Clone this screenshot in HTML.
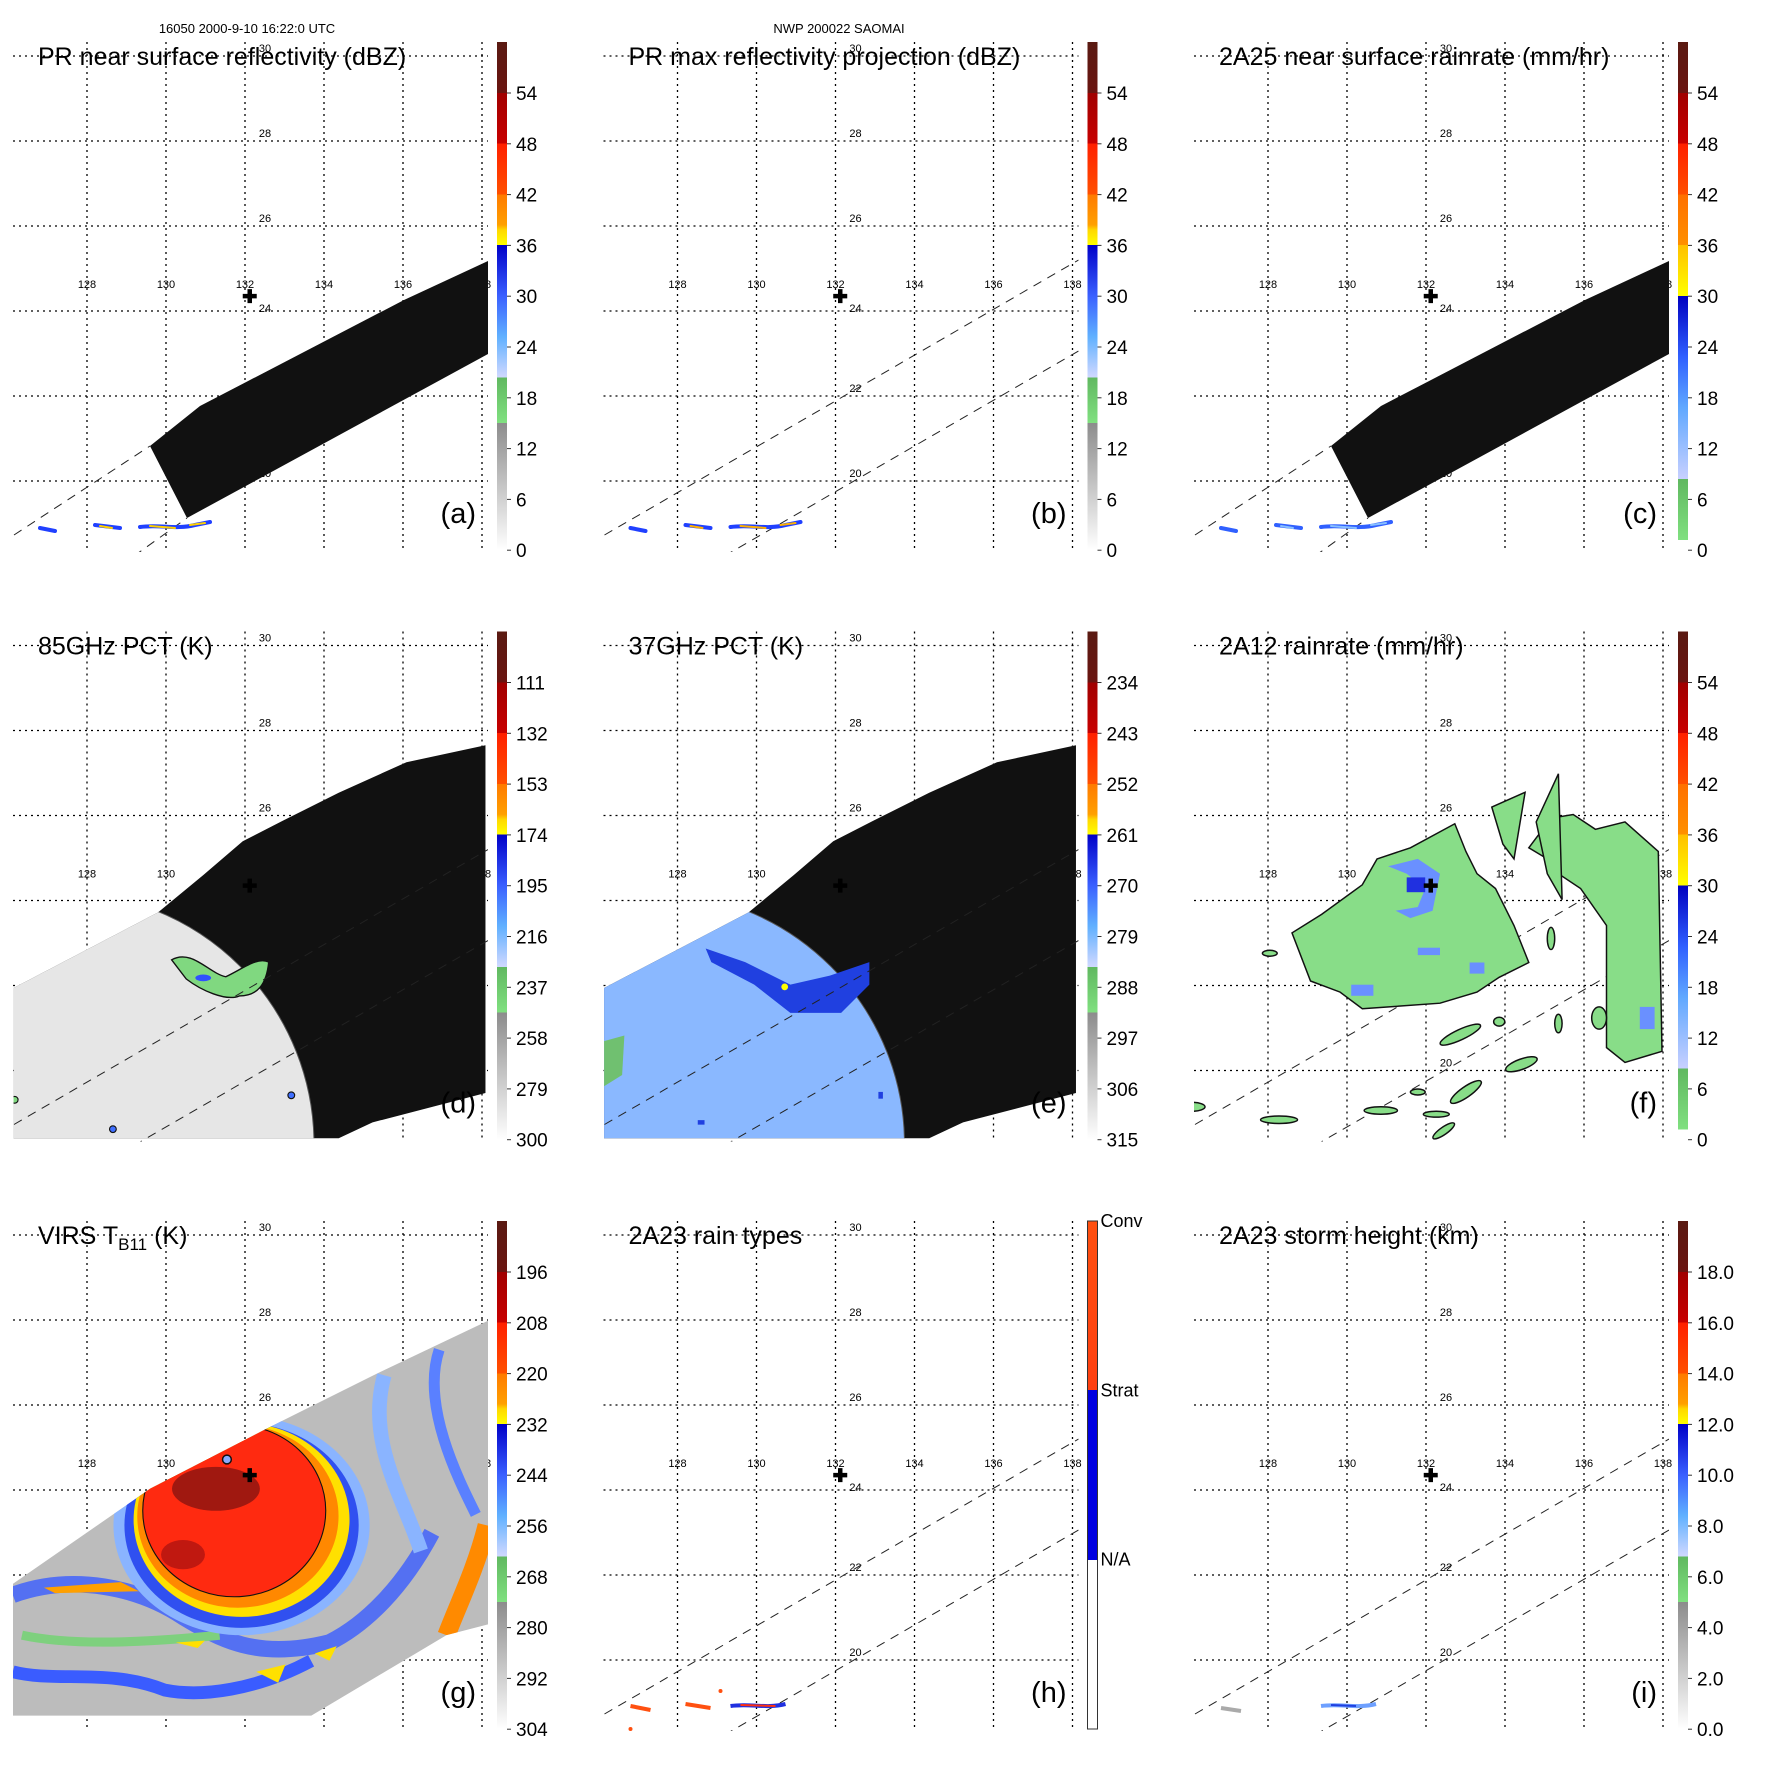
<!DOCTYPE html>
<html><head><meta charset="utf-8"><style>
html,body{margin:0;padding:0;background:#fff}
svg{display:block}
text{font-family:"Liberation Sans",sans-serif}
</style></head><body>
<svg id="fig" width="1771" height="1771" viewBox="0 0 1771 1771" xmlns="http://www.w3.org/2000/svg">
<defs>
<linearGradient id="palA" x1="0" y1="0" x2="0" y2="1">
<stop offset="0" stop-color="#5a1a12"/><stop offset="0.1" stop-color="#6a1410"/>
<stop offset="0.1" stop-color="#a00000"/><stop offset="0.2" stop-color="#c80000"/>
<stop offset="0.2" stop-color="#ff2000"/><stop offset="0.3" stop-color="#ff5000"/>
<stop offset="0.3" stop-color="#ff7a00"/><stop offset="0.36" stop-color="#ffa000"/>
<stop offset="0.37" stop-color="#ffd800"/><stop offset="0.4" stop-color="#ffff00"/>
<stop offset="0.4" stop-color="#0000c8"/><stop offset="0.5" stop-color="#3a60ff"/>
<stop offset="0.58" stop-color="#60b0ff"/><stop offset="0.66" stop-color="#d0d8ff"/>
<stop offset="0.66" stop-color="#60b860"/><stop offset="0.75" stop-color="#80e080"/>
<stop offset="0.75" stop-color="#8c8c8c"/><stop offset="1" stop-color="#ffffff"/>
</linearGradient>
<linearGradient id="palC" x1="0" y1="0" x2="0" y2="1">
<stop offset="0" stop-color="#5a1a12"/><stop offset="0.1" stop-color="#6a1410"/>
<stop offset="0.1" stop-color="#a00000"/><stop offset="0.2" stop-color="#c80000"/>
<stop offset="0.2" stop-color="#ff2000"/><stop offset="0.3" stop-color="#ff5000"/>
<stop offset="0.3" stop-color="#ff7000"/><stop offset="0.4" stop-color="#ff9000"/>
<stop offset="0.4" stop-color="#ffc000"/><stop offset="0.5" stop-color="#ffff00"/>
<stop offset="0.5" stop-color="#0000c0"/><stop offset="0.62" stop-color="#3060ff"/>
<stop offset="0.72" stop-color="#60a8ff"/><stop offset="0.86" stop-color="#c8d0ff"/>
<stop offset="0.86" stop-color="#60b860"/><stop offset="0.98" stop-color="#80e080"/>
<stop offset="0.98" stop-color="#ffffff"/><stop offset="1" stop-color="#ffffff"/>
</linearGradient>
<linearGradient id="palH" x1="0" y1="0" x2="0" y2="1">
<stop offset="0" stop-color="#ff5010"/><stop offset="0.333" stop-color="#ff4010"/>
<stop offset="0.333" stop-color="#0000e0"/><stop offset="0.667" stop-color="#0000e0"/>
<stop offset="0.667" stop-color="#ffffff"/><stop offset="1" stop-color="#ffffff"/>
</linearGradient>
<clipPath id="mapclip"><rect x="13" y="42" width="475" height="510"/></clipPath>
</defs>
<text x="247" y="33" font-size="13" text-anchor="middle">16050 2000-9-10 16:22:0 UTC</text>
<text x="839" y="33" font-size="13" text-anchor="middle">NWP 200022 SAOMAI</text>
</svg>
<script>
const lonTicks=[128,130,132,134,136,138];
const latTicks=[30,28,26,24,22,20];
const stormCenter=[132.12,24.35];
const ticksA=["54","48","42","36","30","24","18","12","6","0"];
const ticksD=["111","132","153","174","195","216","237","258","279","300"];
const ticksE=["234","243","252","261","270","279","288","297","306","315"];
const ticksG=["196","208","220","232","244","256","268","280","292","304"];
const ticksH=["Conv","Strat","N/A"];
const ticksI=["18.0","16.0","14.0","12.0","10.0","8.0","6.0","4.0","2.0","0.0"];
const panels=[
 {id:"a",title:"PR near surface reflectivity (dBZ)",ticks:ticksA,pal:"palA",col:0,row:0},
 {id:"b",title:"PR max reflectivity projection (dBZ)",ticks:ticksA,pal:"palA",col:1,row:0},
 {id:"c",title:"2A25 near surface rainrate (mm/hr)",ticks:ticksA,pal:"palC",col:2,row:0},
 {id:"d",title:"85GHz PCT (K)",ticks:ticksD,pal:"palA",col:0,row:1},
 {id:"e",title:"37GHz PCT (K)",ticks:ticksE,pal:"palA",col:1,row:1},
 {id:"f",title:"2A12 rainrate (mm/hr)",ticks:ticksA,pal:"palC",col:2,row:1},
 {id:"g",title:"VIRS",ticks:ticksG,pal:"palA",col:0,row:2},
 {id:"h",title:"2A23 rain types",ticks:ticksH,pal:"palH",col:1,row:2},
 {id:"i",title:"2A23 storm height (km)",ticks:ticksI,pal:"palA",col:2,row:2}
];
const colX=[0,590.5,1181], rowY=[0,589.5,1179];
function xLon(lon){return 87+(lon-128)*39.5;}
function yLat(lat){return 56+(30-lat)*42.5;}
const S=1.129;
const swathA='<polygon points="150,446 200,406 404,300 488,261 488,354 187,518" fill="#111"/>';
const dashes='<g clip-path="url(#mapclip)" stroke="#222" stroke-width="1" stroke-dasharray="9,7" fill="none"><line x1="14" y1="535" x2="488" y2="260"/><line x1="134" y1="556" x2="488" y2="351"/></g>';
const dashesShort='<g stroke="#222" stroke-width="1" stroke-dasharray="9,7" fill="none"><line x1="14" y1="535" x2="150" y2="446"/><line x1="134" y1="556" x2="187" y2="518"/></g>';
function streak(c1,c2){return '<g fill="none" stroke-linecap="round"><path d="M40,528 L55,531 M95,525 L120,528 M140,527 C160,524 175,530 195,525 L210,522" stroke="'+c1+'" stroke-width="4"/><path d="M100,526 L112,528 M150,526 L175,528 M190,525 L205,523" stroke="'+c2+'" stroke-width="2"/></g>';}
function circleImg(id,fill,extra){
 return '<clipPath id="sw'+id+'"><polygon transform="scale('+S+')" points="12,353 140,286 180,253 215,223 250,205 300,180 360,153 430,138 430,446 330,472 300,486 12,486"/></clipPath>'+
 '<g clip-path="url(#sw'+id+')"><rect x="0" y="0" width="500" height="560" fill="#111"/>'+
 '<circle cx="62" cy="555" r="252" fill="'+fill+'" stroke="#555" stroke-width="1"/>'+extra+'</g>';
}
const extraD='<g transform="scale('+S+')"><path d="M152,328 C170,318 185,340 200,343 C215,336 228,325 238,330 C236,350 228,360 212,360 C200,365 178,355 165,345 Z" fill="#80d880" stroke="#111" stroke-width="1.2"/><ellipse cx="180" cy="344" rx="7" ry="3" fill="#3050ff"/><circle cx="13" cy="452" r="3" fill="#80d880" stroke="#111"/><circle cx="100" cy="478" r="3" fill="#4070ff" stroke="#111"/><circle cx="258" cy="448" r="3" fill="#4070ff" stroke="#111"/></g>';
const extraE='<g transform="scale('+S+')"><path d="M625,318 L660,330 L700,350 L735,342 L770,330 L770,350 L745,375 L700,375 L668,350 L630,330 Z" transform="translate(-523,0)" fill="#2040e0"/><circle cx="172" cy="352" r="3" fill="#ffff00"/><path d="M12,400 L30,395 L28,430 L12,440 Z" fill="#70c070"/><rect x="95" y="470" width="6" height="4" fill="#2040e0"/><rect x="255" y="445" width="4" height="6" fill="#2040e0"/></g>';
const fShapes='<g transform="translate(0,3) scale(0.37)" stroke="#111" stroke-width="4" fill="#88dd88">'+
'<polygon points="530,720 620,690 740,625 770,700 800,760 850,800 900,900 940,1000 860,1040 800,1080 700,1110 490,1125 430,1080 350,1050 300,920 380,870 490,790"/>'+
'<polygon points="940,690 1000,610 1060,600 1120,640 1200,620 1290,700 1300,1240 1200,1270 1150,1230 1150,900 1080,800 1020,760 990,720"/>'+
'<polygon points="840,580 930,540 900,720 870,680"/>'+
'<polygon points="960,620 1020,490 1030,830 990,760"/>'+
'<ellipse cx="30" cy="1390" rx="35" ry="12"/><ellipse cx="265" cy="1425" rx="50" ry="10"/><ellipse cx="540" cy="1400" rx="45" ry="10"/>'+
'<ellipse cx="690" cy="1410" rx="35" ry="8"/><ellipse cx="770" cy="1350" rx="50" ry="14" transform="rotate(-35 770 1350)"/>'+
'<ellipse cx="755" cy="1195" rx="60" ry="14" transform="rotate(-25 755 1195)"/><ellipse cx="920" cy="1275" rx="45" ry="14" transform="rotate(-20 920 1275)"/>'+
'<ellipse cx="710" cy="1455" rx="35" ry="10" transform="rotate(-35 710 1455)"/><ellipse cx="640" cy="1350" rx="20" ry="8"/><ellipse cx="1020" cy="1165" rx="10" ry="25"/>'+
'<ellipse cx="1130" cy="1150" rx="20" ry="30"/><ellipse cx="860" cy="1160" rx="15" ry="12"/><ellipse cx="240" cy="975" rx="20" ry="8"/><ellipse cx="1000" cy="935" rx="10" ry="30"/>'+
'<g stroke="none" fill="#6a90ff"><path d="M560,740 L640,720 L700,760 L680,860 L620,880 L580,860 L640,850 L660,800 L610,760 Z"/><rect x="610" y="770" width="50" height="40" fill="#2030e0"/><rect x="640" y="960" width="60" height="20"/><rect x="780" y="1000" width="40" height="30"/><rect x="460" y="1060" width="60" height="30"/><rect x="1240" y="1120" width="40" height="60"/></g>'+
'</g>';
const gShapes='<g transform="translate(0,6) scale(0.366)"><clipPath id="gsw"><polygon points="35,1090 410,830 740,660 1020,520 1335,370 1335,1200 1220,1230 850,1450 35,1450"/></clipPath>'+
'<g clip-path="url(#gsw)"><rect x="0" y="300" width="1400" height="1200" fill="#bcbcbc"/>'+
'<path d="M35,1120 C200,1060 380,1100 500,1180 C600,1240 700,1300 900,1250 C1000,1200 1100,1100 1180,950" stroke="#3a5cff" stroke-width="45" fill="none" opacity="0.8"/>'+
'<path d="M1050,520 C1000,700 1100,850 1150,1000" stroke="#8ab4ff" stroke-width="40" fill="none"/>'+
'<path d="M1200,450 C1150,600 1250,800 1300,900" stroke="#5a80ff" stroke-width="30" fill="none"/>'+
'<path d="M35,1330 C150,1360 300,1320 450,1380 C550,1400 700,1380 850,1300" stroke="#3a5cff" stroke-width="35" fill="none"/>'+
'<path d="M60,1230 C200,1260 400,1250 600,1230" stroke="#7ed07e" stroke-width="25" fill="none"/>'+
'<path d="M1330,930 C1300,1050 1250,1150 1220,1230" stroke="#ff8a00" stroke-width="50" fill="none"/>'+
'<ellipse cx="660" cy="930" rx="350" ry="300" fill="#8ab4ff"/>'+
'<ellipse cx="660" cy="930" rx="320" ry="280" fill="#3050f0"/>'+
'<ellipse cx="660" cy="915" rx="295" ry="265" fill="#ffe000"/>'+
'<ellipse cx="650" cy="905" rx="275" ry="250" fill="#ff8800"/>'+
'<ellipse cx="640" cy="890" rx="250" ry="235" fill="#ff2a10" stroke="#111" stroke-width="3"/>'+
'<ellipse cx="590" cy="830" rx="120" ry="60" fill="#a01810"/>'+
'<ellipse cx="500" cy="1010" rx="60" ry="40" fill="#c01810"/>'+
'<path d="M120,1100 L330,1085 L380,1110 L150,1115 Z" fill="#ffa000"/>'+
'<path d="M480,1250 L560,1245 L540,1265 Z M700,1330 L780,1310 L760,1360 Z M860,1280 L920,1260 L900,1300 Z" fill="#ffe000"/>'+
'</g><circle cx="620" cy="750" r="12" fill="#88aaff" stroke="#111" stroke-width="4"/></g>';
const hShapes='<g><path d="M40,527 L60,531 M95,525 L120,529" stroke="#ff5010" stroke-width="4" fill="none"/><path d="M140,527 C160,524 175,530 195,525" stroke="#2030e0" stroke-width="4" fill="none"/><path d="M150,526 L185,527" stroke="#ff3010" stroke-width="2" fill="none"/><circle cx="40" cy="550" r="2" fill="#ff5010"/><circle cx="130" cy="512" r="2" fill="#ff5010"/></g>';
const iShapes='<g><path d="M40,529 L60,532" stroke="#aaa" stroke-width="4" fill="none"/><path d="M140,527 C160,524 175,530 195,525" stroke="#6ea0ff" stroke-width="4" fill="none"/><path d="M150,526 L175,527" stroke="#2040e0" stroke-width="2" fill="none"/></g>';
const svg=document.getElementById('fig');
let html='';
panels.forEach(p=>{
 const ox=colX[p.col], oy=rowY[p.row];
 let s='<g transform="translate('+ox+','+oy+')">';
 s+='<g stroke="#000" stroke-width="1.3" stroke-dasharray="2,4">';
 lonTicks.forEach(l=>{s+='<line x1="'+xLon(l)+'" y1="42" x2="'+xLon(l)+'" y2="552"/>';});
 latTicks.forEach(l=>{s+='<line x1="13" y1="'+yLat(l)+'" x2="488" y2="'+yLat(l)+'"/>';});
 s+='</g><g font-size="11">';
 lonTicks.forEach(l=>{s+='<text x="'+xLon(l)+'" y="288" text-anchor="middle">'+l+'</text>';});
 latTicks.forEach(l=>{s+='<text x="265" y="'+(yLat(l)-(l==24?-1:4))+'" text-anchor="middle">'+l+'</text>';});
 s+='</g>';
 s+='<g clip-path="url(#mapclip)">';
 if(p.id=='a'||p.id=='c'){s+=swathA+dashesShort+streak(p.id=='a'?'#2040ff':'#3060ff',p.id=='a'?'#ffd000':'#88c0ff');}
 if(p.id=='b'){s+=dashes+streak('#2040ff','#ffb000');}
 if(p.id=='d'){s+=circleImg('d','#e6e6e6',extraD)+dashes;}
 if(p.id=='e'){s+=circleImg('e','#8ab8ff',extraE)+dashes;}
 if(p.id=='f'){s+=dashes+fShapes;}
 if(p.id=='g'){s+=gShapes;}
 if(p.id=='h'){s+=dashes+hShapes;}
 if(p.id=='i'){s+=dashes+iShapes;}
 s+='</g>';
 const cx=xLon(stormCenter[0]), cy=yLat(stormCenter[1]);
 s+='<path d="M'+(cx-7)+','+cy+' h14 M'+cx+','+(cy-7)+' v14" stroke="#000" stroke-width="4.5"/>';
 if(p.id=='g'){s+='<text x="38" y="65" font-size="25">VIRS T<tspan font-size="17" dy="6">B11</tspan><tspan dy="-6"> (K)</tspan></text>';}
 else s+='<text x="38" y="65" font-size="25">'+p.title+'</text>';
 s+='<text x="476" y="523" font-size="29" text-anchor="end">('+p.id+')</text>';
 s+='<g><rect x="497" y="42" width="10" height="508" fill="url(#'+p.pal+')"'+(p.id=='h'?' stroke="#333" stroke-width="1"':'')+'/>';
 if(p.id=='h'){p.ticks.forEach((t,i)=>{s+='<text x="510" y="'+(42+i*169.3+6)+'" font-size="18">'+t+'</text>';});}
 else p.ticks.forEach((t,i)=>{const yy=93+i*50.8; s+='<line x1="507" y1="'+yy+'" x2="511" y2="'+yy+'" stroke="#333"/><text x="516" y="'+(yy+7)+'" font-size="19">'+t+'</text>';});
 s+='</g></g>';
 html+=s;
});
svg.insertAdjacentHTML('beforeend',html);
</script>
</body></html>
